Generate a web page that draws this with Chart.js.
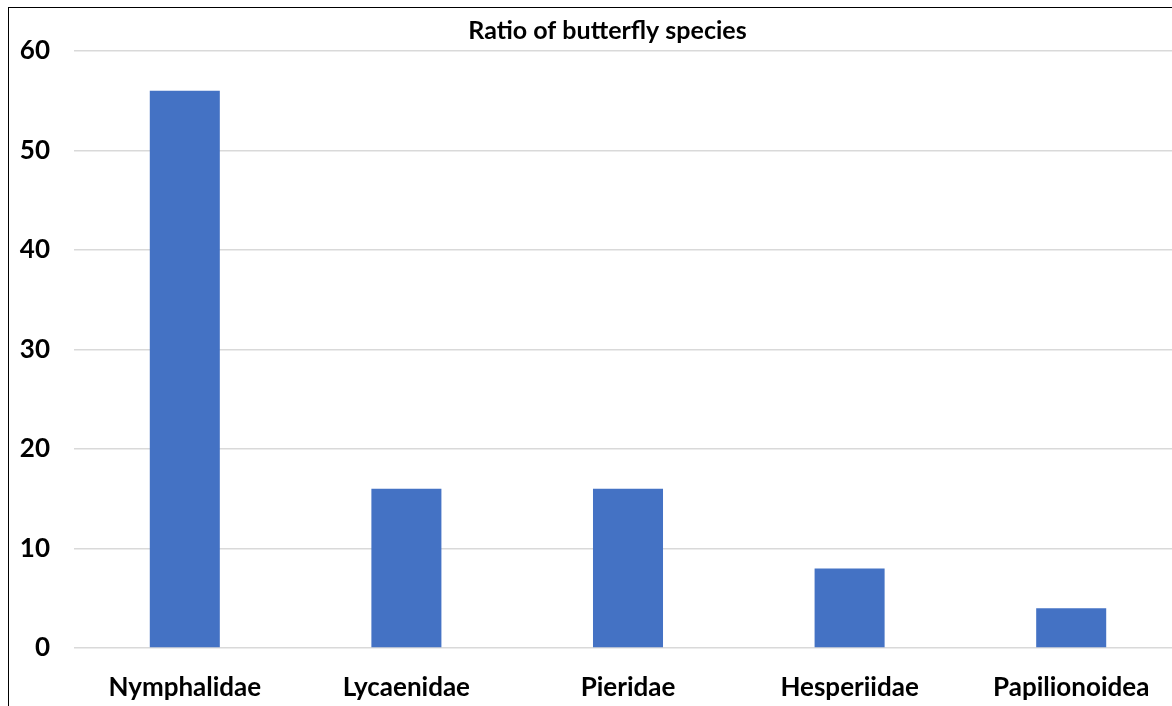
<!DOCTYPE html>
<html>
<head>
<meta charset="utf-8">
<script src="https://cdn.jsdelivr.net/npm/chart.js@4"></script>
<style>
  html, body { margin: 0; padding: 0; background: #fff; overflow: hidden; }
  #frame {
    position: absolute; left: 8px; top: 7px;
    width: 1197px; height: 698px;
    border-left: 1px solid #000; border-top: 1px solid #000;
  }
  #frame canvas { display: block; }
</style>
</head>
<body>
<div id="frame"><canvas id="chart"></canvas></div>
<script>
const families = ["Nymphalidae", "Lycaenidae", "Pieridae", "Hesperiidae", "Papilionoidea"];
const speciesCount = [56, 16, 16, 8, 4];
const yTicks = [0, 10, 20, 30, 40, 50, 60];

const font = "Lato, 'Open Sans', sans-serif";

new Chart(document.getElementById("chart"), {
   type: 'bar',
   data: {
      labels: families,
      datasets: [{
         label: 'Species',
         data: speciesCount,
         backgroundColor: '#4472c4',
         borderWidth: 0,
         barPercentage: 0.316,
         categoryPercentage: 1
      }]
   },
   options: {
      responsive: true,
      maintainAspectRatio: false,
      animation: false,
      layout: { padding: 0 },
      plugins: {
         legend: { display: false },
         tooltip: { enabled: false },
         title: {
            display: true,
            text: 'Ratio of butterfly species',
            color: '#000',
            font: { family: font, size: 25, weight: 'bold', lineHeight: 1.2 },
            padding: { top: 8, bottom: 5 }
         }
      },
      scales: {
         x: {
            afterFit: (axis) => { axis.height = 58; },
            grid: { display: false },
            border: { display: false },
            ticks: {
               color: '#000',
               padding: 16,
               maxRotation: 0,
               font: { family: font, size: 26, weight: 'bold' }
            }
         },
         y: {
            min: yTicks[0],
            max: yTicks[yTicks.length - 1],
            afterFit: (axis) => { axis.width = 65; },
            afterBuildTicks: (axis) => { axis.ticks = yTicks.map(v => ({ value: v })); },
            grid: { color: '#d9d9d9', lineWidth: 1.5, drawTicks: false },
            border: { display: false },
            ticks: {
               color: '#000',
               padding: 24,
               font: { family: font, size: 26, weight: 'bold' }
            }
         },
         // empty spacer on the right so the title stays centred on the frame
         spacer: {
            type: 'linear',
            position: 'right',
            afterFit: (axis) => { axis.width = 24; },
            grid: { display: false },
            border: { display: false },
            ticks: { display: false }
         }
      }
   }
});
</script>
</body>
</html>
